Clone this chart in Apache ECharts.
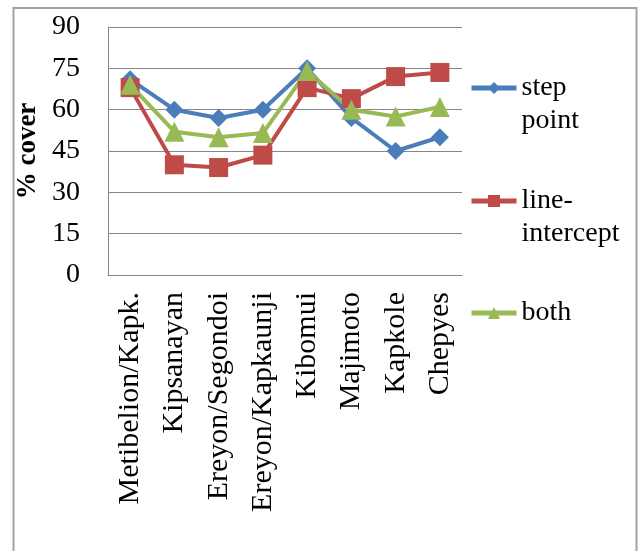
<!DOCTYPE html>
<html>
<head>
<meta charset="utf-8">
<script src="https://cdn.jsdelivr.net/npm/echarts@6/dist/echarts.min.js"></script>
<style>
html,body{margin:0;padding:0;background:#fff;}
#c{width:644px;height:551px;}
</style>
</head>
<body>
<div id="c"></div>
<script>
var categories = ['Metibelion/Kapk.', 'Kipsanayan', 'Ereyon/Segondoi', 'Ereyon/Kapkaunji', 'Kibomui', 'Majimoto', 'Kapkole', 'Chepyes'];
var stepPoint = [71, 60, 57, 60, 75, 57, 45, 50];
var lineIntercept = [68, 40, 39, 43.5, 68, 64, 72, 73.5];
var both = [69, 52, 50, 51.5, 74, 60, 57.5, 61];
var yTicks = {min: 0, max: 90, interval: 15};

var FONT = '"Liberation Serif", "Times New Roman", serif';
var chart = echarts.init(document.getElementById('c'));

function legendFor(name, label, top) {
  return {
    data: [name],
    left: 469,
    top: top,
    padding: 0,
    itemWidth: 45,
    itemHeight: 15,
    itemGap: 0,
    lineStyle: {width: 5},
    formatter: function () { return label; },
    textStyle: {fontFamily: FONT, fontSize: 28, color: '#000', lineHeight: 33}
  };
}

var option = {
  backgroundColor: '#fff',
  animation: false,
  graphic: [{
    type: 'rect',
    shape: {x: 13.5, y: 8, width: 623, height: 600},
    style: {fill: 'none', stroke: '#a3a3a3', lineWidth: 2},
    silent: true
  }],
  legend: [
    legendFor('step point', '\nstep\npoint', 38.5),
    legendFor('line-intercept', '\nline-\nintercept', 151.5),
    legendFor('both', 'both', 296.5)
  ],
  grid: {left: 108, top: 27, right: 182, bottom: 276, containLabel: false},
  xAxis: {
    type: 'category',
    data: categories,
    boundaryGap: true,
    axisLine: {show: true, lineStyle: {color: '#868686', width: 1}},
    axisTick: {show: false},
    axisLabel: {
      rotate: 90, margin: 17, interval: 0,
      fontFamily: FONT, fontSize: 30, color: '#000'
    }
  },
  yAxis: {
    type: 'value',
    min: yTicks.min, max: yTicks.max, interval: yTicks.interval,
    name: '% cover',
    nameLocation: 'middle',
    nameGap: 56,
    nameTextStyle: {fontFamily: FONT, fontSize: 27, fontWeight: 'bold', color: '#000'},
    axisLine: {show: true, lineStyle: {color: '#868686', width: 1}},
    axisTick: {show: false},
    splitLine: {show: true, lineStyle: {color: '#868686', width: 1}},
    axisLabel: {margin: 28, fontFamily: FONT, fontSize: 28, color: '#000'}
  },
  series: [
    {
      name: 'step point', type: 'line', data: stepPoint,
      symbol: 'diamond', symbolSize: 18,
      lineStyle: {color: '#4a7ebb', width: 4},
      itemStyle: {color: '#4a7ebb'}
    },
    {
      name: 'line-intercept', type: 'line', data: lineIntercept,
      symbol: 'rect', symbolSize: 19,
      lineStyle: {color: '#be4b48', width: 4},
      itemStyle: {color: '#be4b48'}
    },
    {
      name: 'both', type: 'line', data: both,
      symbol: 'triangle', symbolSize: 20,
      lineStyle: {color: '#98b954', width: 4},
      itemStyle: {color: '#98b954'}
    }
  ]
};
chart.setOption(option);
</script>
</body>
</html>
